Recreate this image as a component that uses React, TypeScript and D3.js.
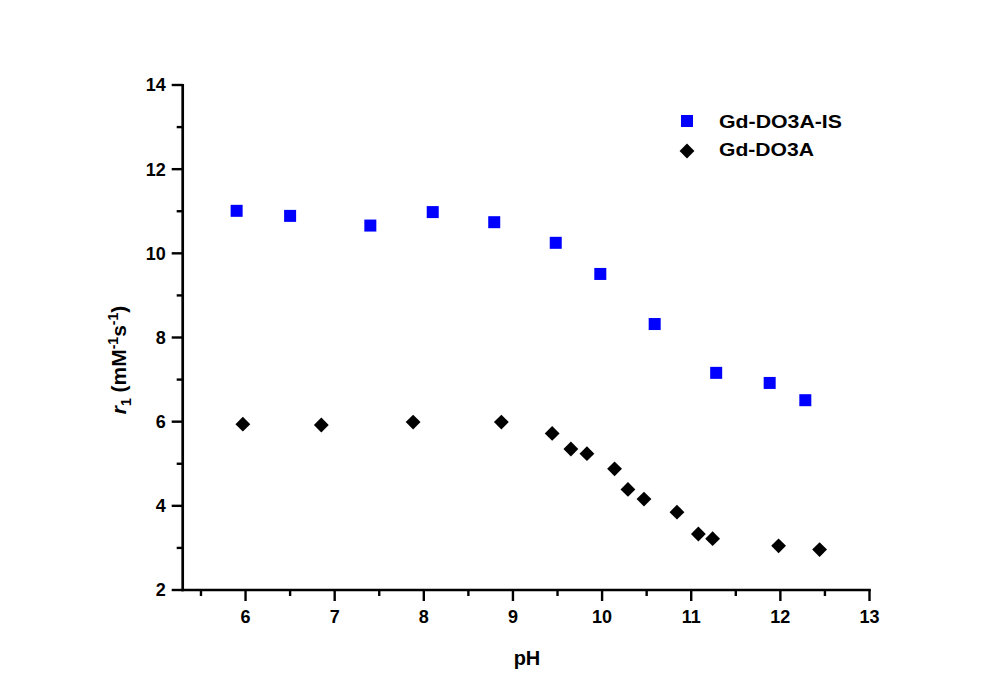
import React from "react";
import * as d3 from "d3";

const isX = [5.9, 6.5, 7.4, 8.1, 8.79, 9.48, 9.98, 10.59, 11.28, 11.88, 12.28];
const isY = [11.01, 10.89, 10.66, 10.98, 10.74, 10.25, 9.51, 8.32, 7.16, 6.92, 6.51];
const doX = [5.97, 6.85, 7.88, 8.87, 9.44, 9.65, 9.83, 10.14, 10.29, 10.47, 10.84, 11.08, 11.24, 11.98, 12.44];
const doY = [5.94, 5.92, 5.99, 5.99, 5.72, 5.35, 5.24, 4.88, 4.39, 4.16, 3.85, 3.33, 3.22, 3.05, 2.96];
const xTicks = [6, 7, 8, 9, 10, 11, 12, 13];
const xMinor = [5.5, 6.5, 7.5, 8.5, 9.5, 10.5, 11.5, 12.5];
const yTicks = [2, 4, 6, 8, 10, 12, 14];
const yMinor = [3, 5, 7, 9, 11, 13];
const seriesNames = ["Gd-DO3A-IS", "Gd-DO3A"];

export default function App() {
  const x = d3.scaleLinear().domain([5.295, 13]).range([182.7, 869.5]);
  const y = d3.scaleLinear().domain([2, 14]).range([590, 85]);
  const font = "'Liberation Sans', Arial, sans-serif";
  const diamond = d3.symbol().type(d3.symbolSquare).size(110)();
  const x0 = x.range()[0];
  const y0 = y.range()[0];
  return (
    <svg width={990} height={688} style={{ position: "absolute", left: 0, top: 0 }} fontFamily={font}>
      <rect x={0} y={0} width={990} height={688} fill="#ffffff" />
      {/* axes */}
      <line x1={x0} x2={x0} y1={y(14) - 1} y2={y0 + 1.3} stroke="#000" strokeWidth={2.7} />
      <line x1={x0 - 1.3} x2={x.range()[1] + 1.3} y1={y0} y2={y0} stroke="#000" strokeWidth={2.7} />
      {yTicks.map((t) => (
        <g key={"y" + t}>
          <line x1={x0 - 11} x2={x0} y1={y(t)} y2={y(t)} stroke="#000" strokeWidth={2.4} />
          <text x={x0 - 17} y={y(t)} dy="0.36em" textAnchor="end" fontSize={18} fontWeight="bold">{t}</text>
        </g>
      ))}
      {yMinor.map((t) => (
        <line key={"ym" + t} x1={x0 - 6} x2={x0} y1={y(t)} y2={y(t)} stroke="#000" strokeWidth={2.4} />
      ))}
      {xTicks.map((t) => (
        <g key={"x" + t}>
          <line x1={x(t)} x2={x(t)} y1={y0} y2={y0 + 11} stroke="#000" strokeWidth={2.4} />
          <text x={x(t)} y={y0 + 33} textAnchor="middle" fontSize={18} fontWeight="bold">{t}</text>
        </g>
      ))}
      {xMinor.map((t) => (
        <line key={"xm" + t} x1={x(t)} x2={x(t)} y1={y0} y2={y0 + 6} stroke="#000" strokeWidth={2.4} />
      ))}
      {/* titles */}
      <text x={527} y={665} textAnchor="middle" fontSize={20} fontWeight="bold">pH</text>
      <text transform={`translate(126, 360) rotate(-90)`} textAnchor="middle" fontSize={21} fontWeight="bold">
        <tspan fontStyle="italic">r</tspan>
        <tspan fontSize={14} dy={5}>1</tspan>
        <tspan dy={-5}> (mM</tspan>
        <tspan fontSize={14} dy={-8}>-1</tspan>
        <tspan dy={8}>s</tspan>
        <tspan fontSize={14} dy={-8}>-1</tspan>
        <tspan dy={8}>)</tspan>
      </text>
      {/* data */}
      {isX.map((v, i) => (
        <rect key={"s" + i} x={x(v) - 6} y={y(isY[i]) - 6} width={12} height={12} fill="#0000ff" />
      ))}
      {doX.map((v, i) => (
        <path key={"d" + i} d={diamond as string} transform={`translate(${x(v)},${y(doY[i])}) rotate(45)`} fill="#000" />
      ))}
      {/* legend */}
      <rect x={681} y={115} width={12} height={12} fill="#0000ff" />
      <text x={719} y={128} fontSize={18} fontWeight="bold" textLength={123} lengthAdjust="spacingAndGlyphs">{seriesNames[0]}</text>
      <path d={diamond as string} transform={`translate(687,151) rotate(45)`} fill="#000" />
      <text x={719} y={156} fontSize={18} fontWeight="bold" textLength={95} lengthAdjust="spacingAndGlyphs">{seriesNames[1]}</text>
    </svg>
  );
}
